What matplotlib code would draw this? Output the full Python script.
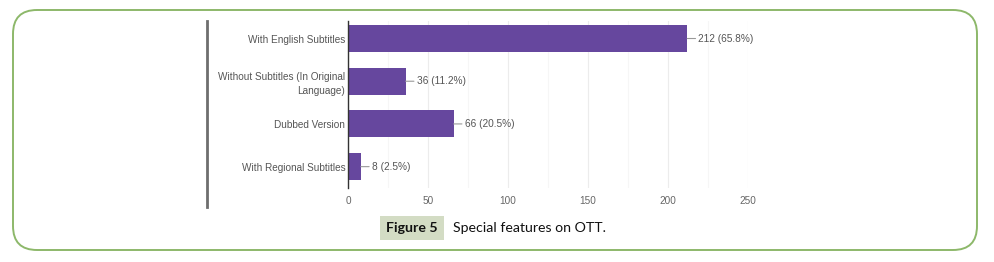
import matplotlib
matplotlib.use("Agg")
import matplotlib.pyplot as plt
from matplotlib.patches import FancyBboxPatch, Rectangle
from matplotlib.lines import Line2D
from matplotlib.transforms import IdentityTransform

categories = ["With English Subtitles",
              "Without Subtitles (In Original\nLanguage)",
              "Dubbed Version",
              "With Regional Subtitles"]
counts = [212, 36, 66, 8]
percents = [65.8, 11.2, 20.5, 2.5]
xticks = [0, 50, 100, 150, 200, 250]
caption_label = "Figure 5"
caption_text = "Special features on OTT."

W, H = 994, 262
fig = plt.figure(figsize=(W / 100, H / 100), dpi=100)
fig.patch.set_facecolor("white")

def fx(px):
    return px / W

def fy(py):
    return 1 - py / H

# rounded green frame (pixel coords, y up)
frame = FancyBboxPatch((13, H - 250), 964, 240,
                       boxstyle="round,pad=0,rounding_size=24",
                       transform=IdentityTransform(),
                       facecolor="none", edgecolor="#8db86a", linewidth=1.4)
fig.add_artist(frame)

# gray vertical line at left of chart image
fig.add_artist(Line2D([fx(207), fx(207)], [fy(21), fy(207)],
                      color="#6e6e6e", linewidth=2.0))

ax = fig.add_axes([fx(348), fy(188), fx(400), (188 - 21) / H])
ypos = list(range(len(categories)))
ax.barh(ypos, counts, height=0.63, color="#66479e", zorder=3)
ax.set_ylim(3.5, -0.41)
ax.set_xlim(0, 250)
ax.set_yticks(ypos)
ax.set_yticklabels(categories, fontsize=7.2, color="#555555",
                   family="Liberation Sans", linespacing=1.45)
ax.set_xticks(xticks)
ax.set_xticklabels([str(t) for t in xticks], fontsize=7.2, color="#666666",
                   family="Liberation Sans")
ax.set_xticks([25, 75, 125, 175, 225], minor=True)
ax.tick_params(axis="both", which="both", length=0)
ax.tick_params(axis="x", pad=6)
ax.tick_params(axis="y", pad=2)
ax.grid(axis="x", which="major", color="#ececec", linewidth=0.8, zorder=0)
ax.grid(axis="x", which="minor", color="#f6f6f6", linewidth=0.8, zorder=0)
for s in ["top", "right", "bottom"]:
    ax.spines[s].set_visible(False)
ax.spines["left"].set_color("#333333")
ax.spines["left"].set_linewidth(1.0)
ax.spines["left"].set_zorder(4)
ax.set_facecolor("none")

for i, (c, p) in enumerate(zip(counts, percents)):
    ax.annotate(f"{c} ({p}%)", xy=(c, i), xytext=(8, 0),
                textcoords="offset points", ha="left", va="center",
                fontsize=7.3, color="#555555", family="Liberation Sans",
                arrowprops=dict(arrowstyle="-", color="#999999",
                                shrinkA=0, shrinkB=0, linewidth=0.8))

# caption
fig.add_artist(Rectangle((fx(380), fy(240)), fx(64), (240 - 216) / H,
                         facecolor="#d3dcc4", edgecolor="none"))
fig.text(fx(412), fy(228), caption_label, ha="center", va="center",
         fontsize=10.2, fontweight="bold", family="Lato", color="#111111")
fig.text(fx(453), fy(228), caption_text, ha="left", va="center",
         fontsize=10.2, family="Lato", color="#111111")

fig.savefig("out.png", dpi=100, facecolor="white")
